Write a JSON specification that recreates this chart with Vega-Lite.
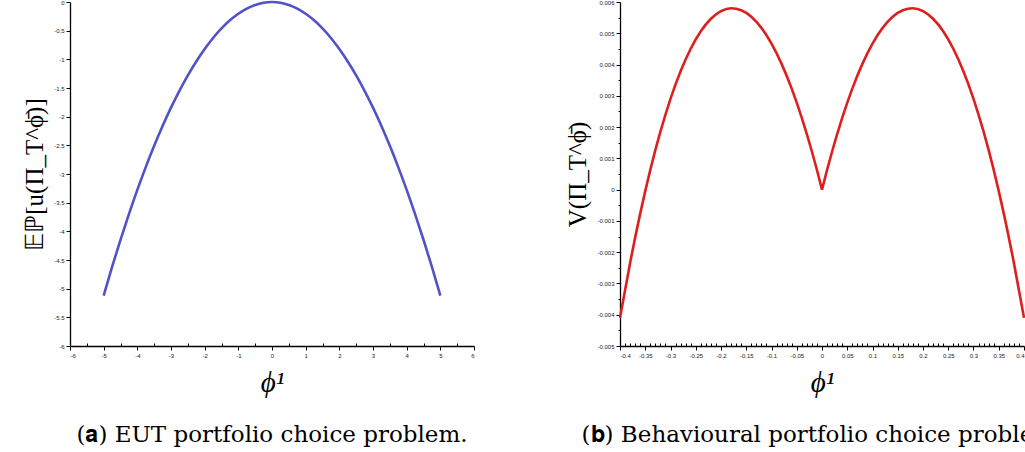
{
  "$schema": "https://vega.github.io/schema/vega-lite/v6.json",
  "background": "white",
  "padding": {"left": 22, "top": -4, "right": 0, "bottom": 0},
  "spacing": 90,
  "datasets": {
    "eut": [
      {"phi": -5, "u": -5.12}, {"phi": -4.75, "u": -4.6208}, {"phi": -4.5, "u": -4.1472}, {"phi": -4.25, "u": -3.6992},
      {"phi": -4, "u": -3.2768}, {"phi": -3.75, "u": -2.88}, {"phi": -3.5, "u": -2.5088}, {"phi": -3.25, "u": -2.1632},
      {"phi": -3, "u": -1.8432}, {"phi": -2.75, "u": -1.5488}, {"phi": -2.5, "u": -1.28}, {"phi": -2.25, "u": -1.0368},
      {"phi": -2, "u": -0.8192}, {"phi": -1.75, "u": -0.6272}, {"phi": -1.5, "u": -0.4608}, {"phi": -1.25, "u": -0.32},
      {"phi": -1, "u": -0.2048}, {"phi": -0.75, "u": -0.1152}, {"phi": -0.5, "u": -0.0512}, {"phi": -0.25, "u": -0.0128},
      {"phi": 0, "u": 0},
      {"phi": 0.25, "u": -0.0128}, {"phi": 0.5, "u": -0.0512}, {"phi": 0.75, "u": -0.1152}, {"phi": 1, "u": -0.2048},
      {"phi": 1.25, "u": -0.32}, {"phi": 1.5, "u": -0.4608}, {"phi": 1.75, "u": -0.6272}, {"phi": 2, "u": -0.8192},
      {"phi": 2.25, "u": -1.0368}, {"phi": 2.5, "u": -1.28}, {"phi": 2.75, "u": -1.5488}, {"phi": 3, "u": -1.8432},
      {"phi": 3.25, "u": -2.1632}, {"phi": 3.5, "u": -2.5088}, {"phi": 3.75, "u": -2.88}, {"phi": 4, "u": -3.2768},
      {"phi": 4.25, "u": -3.6992}, {"phi": 4.5, "u": -4.1472}, {"phi": 4.75, "u": -4.6208}, {"phi": 5, "u": -5.12}
    ],
    "beh": [
      {"side": "L", "phi": -0.4, "v": -0.0041}, {"side": "L", "phi": -0.38, "v": -0.002343}, {"side": "L", "phi": -0.36, "v": -0.000767},
      {"side": "L", "phi": -0.34, "v": 0.00063}, {"side": "L", "phi": -0.32, "v": 0.001852}, {"side": "L", "phi": -0.3, "v": 0.002903},
      {"side": "L", "phi": -0.28, "v": 0.003786}, {"side": "L", "phi": -0.26, "v": 0.004505}, {"side": "L", "phi": -0.24, "v": 0.005064},
      {"side": "L", "phi": -0.22, "v": 0.005464}, {"side": "L", "phi": -0.2, "v": 0.005708}, {"side": "L", "phi": -0.18, "v": 0.005799},
      {"side": "L", "phi": -0.16, "v": 0.005739}, {"side": "L", "phi": -0.14, "v": 0.00553}, {"side": "L", "phi": -0.12, "v": 0.005173},
      {"side": "L", "phi": -0.1, "v": 0.00467}, {"side": "L", "phi": -0.08, "v": 0.004022}, {"side": "L", "phi": -0.06, "v": 0.003231},
      {"side": "L", "phi": -0.04, "v": 0.002296}, {"side": "L", "phi": -0.02, "v": 0.001219}, {"side": "L", "phi": -0.01, "v": 0.000627},
      {"side": "L", "phi": 0, "v": 0},
      {"side": "R", "phi": 0, "v": 0},
      {"side": "R", "phi": 0.01, "v": 0.000627}, {"side": "R", "phi": 0.02, "v": 0.001219}, {"side": "R", "phi": 0.04, "v": 0.002296},
      {"side": "R", "phi": 0.06, "v": 0.003231}, {"side": "R", "phi": 0.08, "v": 0.004022}, {"side": "R", "phi": 0.1, "v": 0.00467},
      {"side": "R", "phi": 0.12, "v": 0.005173}, {"side": "R", "phi": 0.14, "v": 0.00553}, {"side": "R", "phi": 0.16, "v": 0.005739},
      {"side": "R", "phi": 0.18, "v": 0.005799}, {"side": "R", "phi": 0.2, "v": 0.005708}, {"side": "R", "phi": 0.22, "v": 0.005464},
      {"side": "R", "phi": 0.24, "v": 0.005064}, {"side": "R", "phi": 0.26, "v": 0.004505}, {"side": "R", "phi": 0.28, "v": 0.003786},
      {"side": "R", "phi": 0.3, "v": 0.002903}, {"side": "R", "phi": 0.32, "v": 0.001852}, {"side": "R", "phi": 0.34, "v": 0.00063},
      {"side": "R", "phi": 0.36, "v": -0.000767}, {"side": "R", "phi": 0.38, "v": -0.002343}, {"side": "R", "phi": 0.4, "v": -0.0041}
    ]
  },
  "config": {
    "view": {"stroke": null},
    "axis": {
      "grid": false,
      "domainColor": "black",
      "domainWidth": 1.3,
      "tickColor": "black",
      "tickWidth": 1,
      "labelFont": "Liberation Sans",
      "labelFontSize": 6,
      "labelColor": "#222222",
      "labelPadding": 2,
      "titleFont": "Liberation Serif",
      "titleFontWeight": "normal",
      "titleColor": "black"
    },
    "title": {"font": "DejaVu Serif", "fontSize": 23, "fontWeight": "normal", "color": "black"}
  },
  "hconcat": [
    {
      "width": 404,
      "height": 344,
      "title": {"text": "(𝐚) EUT portfolio choice problem.", "orient": "bottom", "offset": 27, "anchor": "middle", "frame": "group"},
      "data": {"name": "eut"},
      "layer": [
        {
          "mark": {"type": "line", "strokeOpacity": 0},
          "encoding": {
            "x": {"field": "phi", "type": "quantitative", "scale": {"domain": [-6, 6], "nice": false},
                  "axis": {"orient": "bottom", "values": [-5.5, -4.5, -3.5, -2.5, -1.5, -0.5, 0.5, 1.5, 2.5, 3.5, 4.5, 5.5], "labels": false, "domain": false, "tickSize": -3, "title": null}},
            "y": {"field": "u", "type": "quantitative", "scale": {"domain": [-6, 0], "nice": false}, "axis": null}
          }
        },
        {
          "mark": {"type": "line", "color": "#5252c8", "strokeWidth": 2.6, "interpolate": "monotone"},
          "encoding": {
            "x": {"field": "phi", "type": "quantitative", "scale": {"domain": [-6, 6], "nice": false},
                  "axis": {"orient": "bottom", "values": [-6, -5, -4, -3, -2, -1, 0, 1, 2, 3, 4, 5, 6], "tickSize": 4, "labelExpr": "'' + datum.value", "title": "ϕ¹", "titleFontSize": 29, "titleFontStyle": "italic", "titlePadding": 10}},
            "y": {"field": "u", "type": "quantitative", "scale": {"domain": [-6, 0], "nice": false},
                  "axis": {"orient": "left", "values": [-6, -5.5, -5, -4.5, -4, -3.5, -3, -2.5, -2, -1.5, -1, -0.5, 0], "tickSize": 4, "labelExpr": "'' + datum.value", "title": "𝔼ℙ[u(Π_T^ϕ̄)]", "titleFontSize": 25, "titlePadding": 6}}
          }
        }
      ],
      "resolve": {"axis": {"x": "independent", "y": "independent"}}
    },
    {
      "width": 404,
      "height": 344,
      "title": {"text": "(𝐛) Behavioural portfolio choice problem.", "orient": "bottom", "offset": 27, "anchor": "middle", "frame": "group"},
      "data": {"name": "beh"},
      "layer": [
        {
          "mark": {"type": "line", "strokeOpacity": 0},
          "encoding": {
            "x": {"field": "phi", "type": "quantitative", "scale": {"domain": [-0.4, 0.4], "nice": false},
                  "axis": {"orient": "bottom", "values": [-0.39, -0.38, -0.37, -0.36, -0.34, -0.33, -0.32, -0.31, -0.29, -0.28, -0.27, -0.26, -0.24, -0.23, -0.22, -0.21, -0.19, -0.18, -0.17, -0.16, -0.14, -0.13, -0.12, -0.11, -0.09, -0.08, -0.07, -0.06, -0.04, -0.03, -0.02, -0.01, 0.01, 0.02, 0.03, 0.04, 0.06, 0.07, 0.08, 0.09, 0.11, 0.12, 0.13, 0.14, 0.16, 0.17, 0.18, 0.19, 0.21, 0.22, 0.23, 0.24, 0.26, 0.27, 0.28, 0.29, 0.31, 0.32, 0.33, 0.34, 0.36, 0.37, 0.38, 0.39], "labels": false, "domain": false, "tickSize": -3, "title": null}},
            "y": {"field": "v", "type": "quantitative", "scale": {"domain": [-0.005, 0.006], "nice": false},
                  "axis": {"orient": "left", "values": [-0.0045, -0.0035, -0.0025, -0.0015, -0.0005, 0.0005, 0.0015, 0.0025, 0.0035, 0.0045, 0.0055], "labels": false, "domain": false, "tickSize": 2, "title": null}},
            "detail": {"field": "side", "type": "nominal"}
          }
        },
        {
          "mark": {"type": "line", "color": "#dd1f1f", "strokeWidth": 2.6, "interpolate": "monotone"},
          "encoding": {
            "x": {"field": "phi", "type": "quantitative", "scale": {"domain": [-0.4, 0.4], "nice": false},
                  "axis": {"orient": "bottom", "values": [-0.4, -0.35, -0.3, -0.25, -0.2, -0.15, -0.1, -0.05, 0, 0.05, 0.1, 0.15, 0.2, 0.25, 0.3, 0.35, 0.4], "tickSize": 4, "labelExpr": "'' + datum.value", "title": "ϕ¹", "titleFontSize": 29, "titleFontStyle": "italic", "titlePadding": 10}},
            "y": {"field": "v", "type": "quantitative", "scale": {"domain": [-0.005, 0.006], "nice": false},
                  "axis": {"orient": "left", "values": [-0.005, -0.004, -0.003, -0.002, -0.001, 0, 0.001, 0.002, 0.003, 0.004, 0.005, 0.006], "tickSize": 4, "labelExpr": "'' + datum.value", "title": "V(Π_T^ϕ̄)", "titleFontSize": 25, "titlePadding": 6}},
            "detail": {"field": "side", "type": "nominal"}
          }
        }
      ],
      "resolve": {"axis": {"x": "independent", "y": "independent"}}
    }
  ]
}
